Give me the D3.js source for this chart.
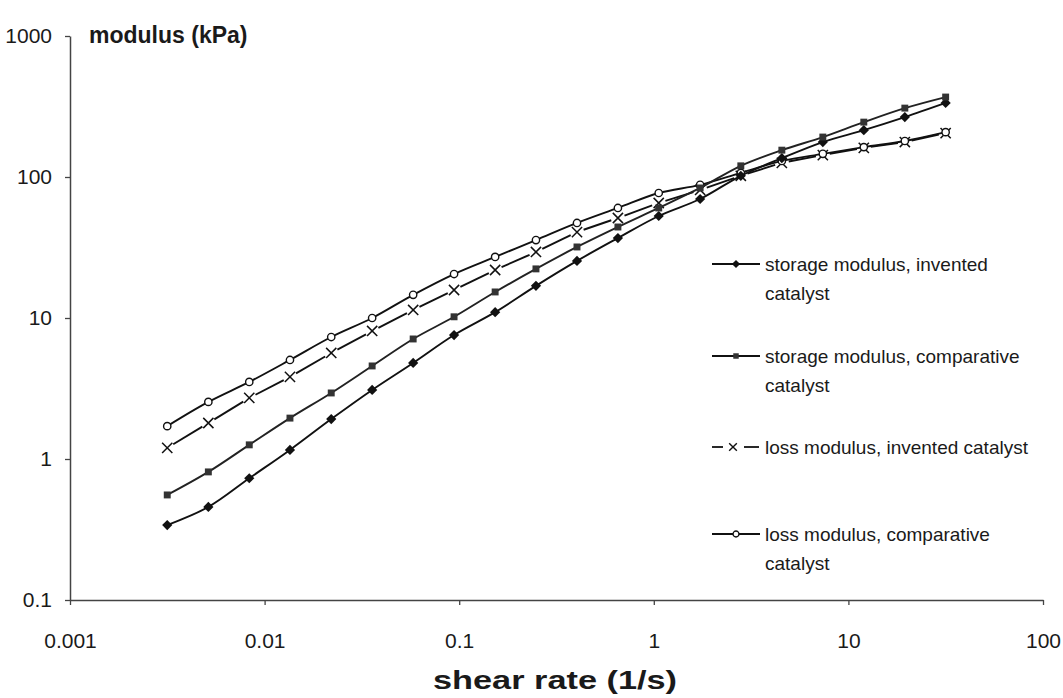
<!DOCTYPE html>
<html>
<head>
<meta charset="utf-8">
<script src="https://cdn.jsdelivr.net/npm/d3@7"></script>
<style>
  body { margin: 0; background: #fff; }
  text { font-family: "Liberation Sans", Arial, sans-serif; fill: #1a1a1a; }
</style>
</head>
<body>
<div id="chart"></div>
<script>
// shear rate (1/s) of each measured point
var shearRate = [0.00316, 0.00514, 0.00834, 0.0135, 0.0220, 0.0357, 0.0580, 0.0941, 0.153, 0.248,
                 0.403, 0.654, 1.06, 1.73, 2.80, 4.55, 7.39, 12.0, 19.5, 31.6];

// modulus (kPa)
var storageInvented    = [0.34, 0.457, 0.73, 1.16, 1.92, 3.09, 4.8, 7.57, 11.0, 16.9,
                          25.4, 36.9, 52.9, 69.8, 102, 136, 177, 215, 266, 335];
var storageComparative = [0.556, 0.81, 1.26, 1.95, 2.94, 4.57, 7.1, 10.2, 15.3, 22.3,
                          31.9, 44.2, 60.3, 83.6, 120, 155, 192, 245, 308, 369];
var lossInvented       = [1.2, 1.8, 2.71, 3.82, 5.65, 8.09, 11.4, 15.8, 21.9, 29.4,
                          40.7, 51.2, 65.4, 80.9, 102, 126, 143, 161, 177, 205];
var lossComparative    = [1.71, 2.54, 3.52, 5.04, 7.33, 10.0, 14.6, 20.5, 27.1, 35.7,
                          47.2, 60.3, 77.0, 88, 107, 130, 146, 163, 180, 208];

var xTicks = [0.001, 0.01, 0.1, 1, 10, 100];
var yTicks = [0.1, 1, 10, 100, 1000];

var svgWidth = 1063;
var svgHeight = 698;

var svg = d3.select("#chart")
  .append("svg")
  .attr("width", svgWidth)
  .attr("height", svgHeight);

var x = d3.scaleLog().domain([0.001, 100]).range([70, 1043]);
var y = d3.scaleLog().domain([0.1, 1000]).range([600, 36]);

var fmt = function(d) { return String(d); };

// axes
var xAxis = svg.append("g")
  .attr("transform", "translate(0,600)")
  .call(d3.axisBottom(x).tickValues(xTicks).tickFormat(fmt).tickSize(5).tickPadding(28).tickSizeOuter(0));

var yAxis = svg.append("g")
  .attr("transform", "translate(70,0)")
  .call(d3.axisLeft(y).tickValues(yTicks).tickFormat(fmt).tickSize(5).tickPadding(13).tickSizeOuter(0));

[xAxis, yAxis].forEach(function(g) {
  g.select(".domain").attr("stroke", "#444").attr("stroke-width", 1.5);
  g.selectAll(".tick line").attr("stroke", "#444").attr("stroke-width", 1.3);
  g.selectAll(".tick text")
    .attr("font-size", 21)
    .attr("font-family", "Liberation Sans, Arial, sans-serif")
    .attr("fill", "#1a1a1a");
});

// axis titles
svg.append("text")
  .attr("x", 89)
  .attr("y", 43)
  .attr("font-size", 23)
  .attr("font-weight", "bold")
  .text("modulus (kPa)");

svg.append("text")
  .attr("x", 433)
  .attr("y", 689)
  .attr("font-size", 25)
  .attr("font-weight", "bold")
  .attr("textLength", 244)
  .attr("lengthAdjust", "spacingAndGlyphs")
  .text("shear rate (1/s)");

function pts(vals) {
  return shearRate.map(function(s, i) { return [x(s), y(vals[i])]; });
}

function at(d) { return "translate(" + d[0] + "," + d[1] + ")"; }

var line = d3.line().curve(d3.curveCatmullRom.alpha(0.5));

// diamond = square turned by 45 degrees
var diamond = d3.symbol().type(d3.symbolSquare).size(52);
var square = d3.symbol().type(d3.symbolSquare).size(48);
var circle = d3.symbol().type(d3.symbolCircle).size(42);
var cross = d3.symbol().type(d3.symbolX).size(70);

// loss modulus, invented: broken line with gaps at the markers
var lp = pts(lossInvented);
var gap = 7;
var segs = svg.append("g");
for (var i = 0; i < lp.length - 1; i++) {
  var a = lp[i], b = lp[i + 1];
  var dx = b[0] - a[0], dy = b[1] - a[1];
  var len = Math.sqrt(dx * dx + dy * dy);
  var ux = dx / len, uy = dy / len;
  segs.append("line")
    .attr("x1", a[0] + ux * gap).attr("y1", a[1] + uy * gap)
    .attr("x2", b[0] - ux * gap).attr("y2", b[1] - uy * gap)
    .attr("stroke", "#111").attr("stroke-width", 1.9);
}
svg.append("g").selectAll("path")
  .data(lp).enter().append("path")
  .attr("transform", at)
  .attr("d", cross)
  .attr("fill", "none").attr("stroke", "#111").attr("stroke-width", 1.5);

// loss modulus, comparative
var cp = pts(lossComparative);
svg.append("path").attr("d", line(cp))
  .attr("fill", "none").attr("stroke", "#111").attr("stroke-width", 1.9);
svg.append("g").selectAll("path")
  .data(cp).enter().append("path")
  .attr("transform", at)
  .attr("d", circle)
  .attr("fill", "#fff").attr("stroke", "#111").attr("stroke-width", 1.4);

// storage modulus, invented
var dp = pts(storageInvented);
svg.append("path").attr("d", line(dp))
  .attr("fill", "none").attr("stroke", "#111").attr("stroke-width", 1.9);
svg.append("g").selectAll("path")
  .data(dp).enter().append("path")
  .attr("transform", function(d) { return at(d) + " rotate(45)"; })
  .attr("d", diamond)
  .attr("fill", "#111");

// storage modulus, comparative
var sp = pts(storageComparative);
svg.append("path").attr("d", line(sp))
  .attr("fill", "none").attr("stroke", "#222").attr("stroke-width", 1.9);
svg.append("g").selectAll("path")
  .data(sp).enter().append("path")
  .attr("transform", at)
  .attr("d", square)
  .attr("fill", "#333");

// legend
var legend = svg.append("g");
var legendRows = [
  { y: 264, lines: ["storage modulus, invented", "catalyst"] },
  { y: 356, lines: ["storage modulus, comparative", "catalyst"] },
  { y: 447, lines: ["loss modulus, invented catalyst"] },
  { y: 534, lines: ["loss modulus, comparative", "catalyst"] }
];

legendRows.forEach(function(r, k) {
  if (k === 2) {
    legend.append("line").attr("x1", 712).attr("x2", 723).attr("y1", r.y).attr("y2", r.y)
      .attr("stroke", "#111").attr("stroke-width", 1.8);
    legend.append("line").attr("x1", 744).attr("x2", 759).attr("y1", r.y).attr("y2", r.y)
      .attr("stroke", "#111").attr("stroke-width", 1.8);
    legend.append("path").attr("d", d3.symbol().type(d3.symbolX).size(40))
      .attr("transform", "translate(733," + r.y + ")")
      .attr("fill", "none").attr("stroke", "#111").attr("stroke-width", 1.4);
  } else {
    legend.append("line").attr("x1", 712).attr("x2", 760).attr("y1", r.y).attr("y2", r.y)
      .attr("stroke", "#111").attr("stroke-width", 1.8);
    var m = legend.append("path");
    if (k === 0) {
      m.attr("d", d3.symbol().type(d3.symbolSquare).size(34))
        .attr("transform", "translate(736," + r.y + ") rotate(45)").attr("fill", "#111");
    } else if (k === 1) {
      m.attr("d", d3.symbol().type(d3.symbolSquare).size(30))
        .attr("transform", "translate(736," + r.y + ")").attr("fill", "#333");
    } else {
      m.attr("d", d3.symbol().type(d3.symbolCircle).size(28))
        .attr("transform", "translate(736," + r.y + ")")
        .attr("fill", "#fff").attr("stroke", "#111").attr("stroke-width", 1.3);
    }
  }
  r.lines.forEach(function(t, j) {
    legend.append("text")
      .attr("x", 765)
      .attr("y", r.y + j * 29)
      .attr("dy", "0.35em")
      .attr("font-size", 19)
      .text(t);
  });
});
</script>
</body>
</html>
